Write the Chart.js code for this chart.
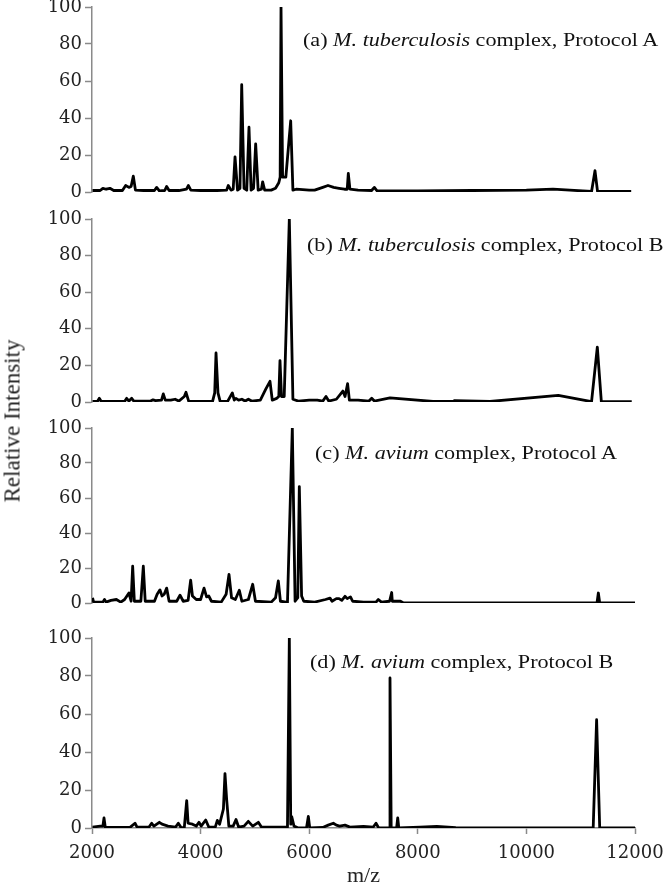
<!DOCTYPE html>
<html><head><meta charset="utf-8">
<script src="https://cdn.jsdelivr.net/npm/chart.js@4.4.1/dist/chart.umd.min.js"></script>
<style>
html,body{margin:0;padding:0;background:#fff;}
#wrap{position:relative;width:666px;height:884px;overflow:hidden;background:#fff;}
#wrap canvas{position:absolute;left:0;}
.ttl{position:absolute;font-family:'Liberation Serif','Times New Roman',serif;font-size:18px;line-height:18px;white-space:nowrap;color:#111;transform-origin:0 50%;transform:scaleX(1.23);}
#ytitle{position:absolute;left:12px;top:421px;font-family:'Liberation Serif','Times New Roman',serif;font-size:23px;line-height:23px;white-space:nowrap;color:#222;transform:translate(-50%,-50%) rotate(-90deg);}
</style>
</head><body>
<div id="wrap"></div>
<script>
// ---- tick labels ----
const xTicks = [2000, 4000, 6000, 8000, 10000, 12000];
const yTicks = [0, 20, 40, 60, 80, 100];

// ---- panel titles ----
const titleA = ["(a) ", "M. tuberculosis", " complex, Protocol A"];
const titleB = ["(b) ", "M. tuberculosis", " complex, Protocol B"];
const titleC = ["(c) ", "M. avium", " complex, Protocol A"];
const titleD = ["(d) ", "M. avium", " complex, Protocol B"];

// ---- (a) M. tuberculosis complex, Protocol A ----
const mzA  = [2010,2150,2200,2260,2330,2400,2560,2620,2680,2720,2761,2800,2950,3150,3191,3240,3340,3375,3420,3600,3740,3774,3820,4000,4300,4480,4510,4560,4600,4634,4680,4725,4757,4800,4850,4891,4930,4975,5014,5060,5120,5143,5180,5300,5380,5440,5465,5481,5510,5570,5659,5700,5760,6000,6100,6250,6346,6450,6550,6650,6700,6720,6750,6900,7150,7199,7250,8000,9000,10000,10490,10800,11200,11263,11310,11930];
const intA = [0.8,0.8,2,1.5,2,0.8,0.8,3.5,2.5,3,8.6,1,0.8,0.8,2.5,0.6,0.8,3,0.8,0.8,1.5,3.5,1,0.8,0.8,1,3.5,1,1.5,19,1,2,58,2,1,35,1,2,26,1,1.5,5.5,1,1,2,5,8,100,8,8,38.5,1,1.5,1,1,2.5,3.5,2.5,2,1.5,1.5,10,1.5,1,0.8,2.5,0.6,0.6,0.8,1,1.6,1,0.3,11.5,0.3,0.3];

// ---- (b) M. tuberculosis complex, Protocol B ----
const mzB  = [2010,2100,2135,2170,2600,2639,2680,2731,2770,3080,3124,3170,3280,3313,3350,3450,3530,3600,3700,3731,3780,4220,4260,4284,4320,4360,4500,4584,4620,4650,4700,4760,4820,4880,4940,5100,5200,5278,5320,5400,5440,5462,5490,5540,5634,5700,5800,6000,6150,6250,6309,6360,6500,6620,6660,6707,6740,6900,7100,7151,7200,7488,8280,8650,8680,9330,10587,11200,11306,11380,11940];
const intB = [0.3,0.3,2,0.3,0.3,2,0.5,2,0.5,0.5,1.2,0.8,1,4.4,1,1,1.5,0.5,3,5.3,0.5,0.3,5,26.8,5,0.3,0.5,5,1,2,1,1.5,0.5,1.5,0.5,1,7,11.3,1,2,3,22.6,3,3,100,1.5,0.5,1,1,0.5,3,0.5,1.5,6,3,10,1,1,0.5,2,0.5,2.3,0.3,0.3,0.8,0.3,3.6,0.2,30,0.2,0.2];

// ---- (c) M. avium complex, Protocol A ----
const mzC  = [2010,2030,2200,2230,2260,2350,2450,2530,2600,2680,2720,2749,2780,2900,2945,2980,3150,3200,3252,3290,3330,3375,3420,3560,3621,3680,3770,3817,3850,3920,4000,4063,4110,4150,4200,4380,4470,4523,4570,4640,4713,4760,4880,4959,5010,5300,5380,5431,5470,5600,5689,5740,5790,5818,5860,5900,6100,6300,6383,6420,6500,6550,6600,6659,6700,6760,6800,7000,7230,7273,7330,7480,7519,7530,7680,7730,11300,11325,11350,12000];
const intC = [3,0.5,0.5,2,0.5,1.5,2,0.5,2,5.7,1,21,1,1,21,1,1,5,7.5,4,5,8.5,1,1,4.5,1,1.5,13,4,2,2,8.5,3.5,4,1,0.5,5,16.3,3,2,7.3,1,2,10.7,1,0.5,3,12.6,1,0.3,100,1,3,66.5,4,1,0.5,2,2.8,1,2.5,2.5,1.5,3.8,2.5,3.5,1,0.5,0.5,2,0.5,1,6,1,1,0.1,0.1,5.7,0.1,0.1];

// ---- (d) M. avium complex, Protocol B ----
const mzD  = [2010,2150,2200,2221,2245,2700,2792,2830,3050,3099,3140,3240,3290,3400,3540,3589,3640,3700,3744,3770,3850,3920,3970,4010,4094,4150,4270,4308,4350,4420,4449,4480,4520,4600,4652,4700,4800,4878,4960,5063,5120,5600,5634,5660,5678,5720,5800,5950,5984,6010,6250,6350,6444,6500,6560,6659,6750,7000,7180,7230,7280,7470,7488,7510,7610,7630,7650,8040,8350,8700,11230,11293,11350,12000];
const intD = [0.5,1,1,5.3,0.3,0.3,2.5,0.5,0.5,2.5,1,3,2,1,0.5,2.5,0.2,0.3,14.4,2.5,2,1,3,1,4.2,0.5,0.5,4,2,10,28.6,15,1,1,4.5,0.5,1,3.5,1,3,0.5,0.5,100,2,6,1,0,0,6.1,0,0.3,1.5,2.5,1.5,1,1.5,0.5,0.8,0.5,2.5,0,0,79,0,0,5.3,0,0.5,0.8,0.2,0,57,0,0];

const panels = [
  {mz: mzA, inten: intA, title: titleA, areaTop: 7,   areaBottom: 192, showX: false, tLeft: 303, tY: 40},
  {mz: mzB, inten: intB, title: titleB, areaTop: 219, areaBottom: 402, showX: false, tLeft: 307, tY: 245},
  {mz: mzC, inten: intC, title: titleC, areaTop: 428, areaBottom: 603, showX: false, tLeft: 315, tY: 453},
  {mz: mzD, inten: intD, title: titleD, areaTop: 638, areaBottom: 828, showX: true,  tLeft: 310, tY: 662}
];

const wrap = document.getElementById('wrap');
const PAD = 14;
const CANVAS_W = 690;      // wider than the page so the last x label may overflow like the original
const AREA_RIGHT = 635;
const tickFont = {family: "'DejaVu Serif', serif", size: 18};
const axisGray = '#8a8a8a';

panels.forEach(p => {
  const c = document.createElement('canvas');
  const top = p.areaTop - PAD;
  const h = p.showX ? (884 - top) : (p.areaBottom - p.areaTop + 2 * PAD);
  c.width = CANVAS_W; c.height = h;
  c.style.top = top + 'px';
  c.style.width = CANVAS_W + 'px'; c.style.height = h + 'px';
  wrap.appendChild(c);

  new Chart(c.getContext('2d'), {
    type: 'line',
    data: {
      datasets: [{
        data: p.mz.map((x, i) => ({x: x, y: p.inten[i]})),
        borderColor: '#000',
        borderWidth: 2.8,
        borderJoinStyle: 'round',
        pointRadius: 0,
        tension: 0,
        fill: false
      }]
    },
    options: {
      responsive: false,
      animation: false,
      events: [],
      layout: {padding: {left: 0, right: CANVAS_W - AREA_RIGHT, top: PAD, bottom: p.showX ? 0 : PAD}},
      plugins: {legend: {display: false}, tooltip: {enabled: false}, title: {display: false}},
      scales: {
        x: {
          type: 'linear', min: 2000, max: 12000,
          display: p.showX,
          afterBuildTicks: s => { s.ticks = xTicks.map(v => ({value: v})); },
          afterFit: s => { if (p.showX) s.height = 56; },
          grid: {display: true, drawOnChartArea: false, drawTicks: true, tickLength: 6, tickColor: axisGray, tickWidth: 1.5},
          border: {display: true, color: axisGray, width: 1.5},
          ticks: {font: tickFont, color: '#222', padding: 9, maxRotation: 0, autoSkip: false,
                  callback: v => String(v)},
          title: {display: true, text: 'm/z', color: '#222',
                  font: {family: "'Liberation Serif', serif", size: 22, lineHeight: 1},
                  padding: {top: 0, bottom: -3}}
        },
        y: {
          min: 0, max: 100,
          afterBuildTicks: s => { s.ticks = yTicks.map(v => ({value: v})); },
          afterFit: s => { s.width = 92; },
          grid: {display: true, drawOnChartArea: false, drawTicks: true, tickLength: 7, tickColor: axisGray, tickWidth: 1.5},
          border: {display: true, color: axisGray, width: 1.5},
          ticks: {font: tickFont, color: '#222', padding: 3, autoSkip: false, callback: v => String(v)}
        }
      }
    }
  });

  const t = document.createElement('div');
  t.className = 'ttl';
  t.style.left = p.tLeft + 'px';
  t.style.top = (p.tY - 9) + 'px';
  const s1 = document.createElement('span'); s1.textContent = p.title[0];
  const s2 = document.createElement('i'); s2.textContent = p.title[1];
  const s3 = document.createElement('span'); s3.textContent = p.title[2];
  t.appendChild(s1); t.appendChild(s2); t.appendChild(s3);
  wrap.appendChild(t);
});

const yt = document.createElement('div');
yt.id = 'ytitle';
yt.textContent = 'Relative Intensity';
wrap.appendChild(yt);
</script>
</body></html>
